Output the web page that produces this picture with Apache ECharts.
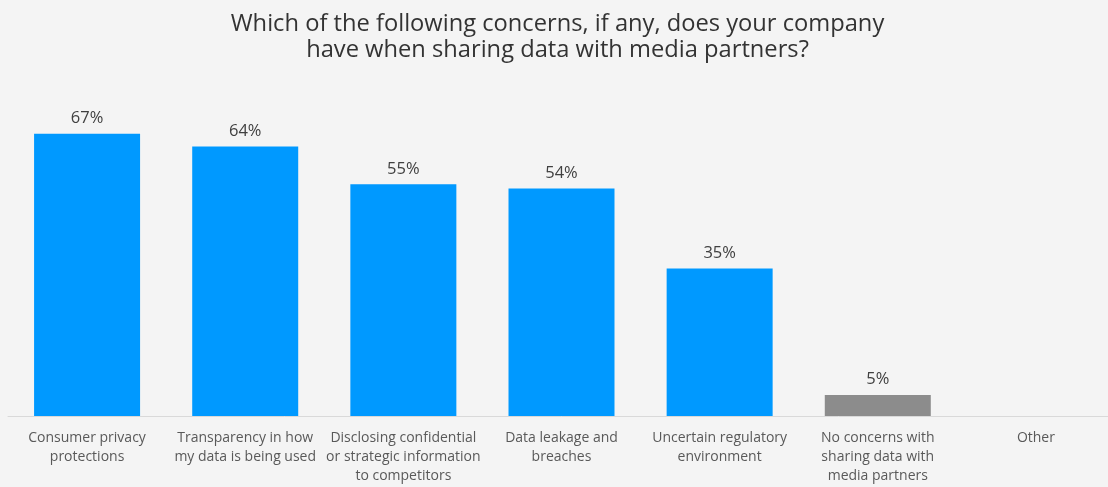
<!DOCTYPE html>
<html>
<head>
<meta charset="utf-8">
<script src="https://cdn.jsdelivr.net/npm/echarts@6/dist/echarts.min.js"></script>
<style>
  html, body { margin: 0; padding: 0; background: #f4f4f4; overflow: hidden; }
  /* the drawing surface runs a few pixels past the right edge of the window */
  #chart { width: 1115px; height: 487px; }
</style>
</head>
<body>
<div id="chart"></div>
<script>
const categories = [
  'Consumer privacy\nprotections',
  'Transparency in how\nmy data is being used',
  'Disclosing confidential\nor strategic information\nto competitors',
  'Data leakage and\nbreaches',
  'Uncertain regulatory\nenvironment',
  'No concerns with\nsharing data with\nmedia partners',
  'Other'
];
const values = [67, 64, 55, 54, 35, 5, null];
const barColors = ['#0099ff', '#0099ff', '#0099ff', '#0099ff', '#0099ff', '#8c8c8c', '#0099ff'];

const font = '"Open Sans", "Segoe UI", sans-serif';
const chart = echarts.init(document.getElementById('chart'));
chart.setOption({
  backgroundColor: '#f4f4f4',
  animation: false,
  title: {
    text: 'Which of the following concerns, if any, does your company\nhave when sharing data with media partners?',
    left: 'center',
    top: 6,
    textStyle: {
      fontFamily: font,
      fontSize: 23.7,
      fontWeight: 'normal',
      color: '#333333',
      lineHeight: 26
    }
  },
  grid: { left: 8, right: 0, top: 79, bottom: 71, containLabel: false },
  xAxis: {
    type: 'category',
    data: categories,
    axisLine: { lineStyle: { color: '#d9d9d9', width: 1 } },
    axisTick: { show: false },
    axisLabel: {
      interval: 0,
      margin: 13,
      fontFamily: font,
      fontSize: 14,
      lineHeight: 19,
      color: '#595959'
    }
  },
  yAxis: {
    type: 'value',
    min: 0,
    max: 80,
    show: false,
    splitLine: { show: false }
  },
  series: [{
    type: 'bar',
    barWidth: 106,
    data: values.map((v, i) => ({ value: v, itemStyle: { color: barColors[i] } })),
    label: {
      show: true,
      position: 'top',
      distance: 7,
      formatter: p => (p.value == null ? '' : p.value + '%'),
      fontFamily: font,
      fontSize: 16.5,
      color: '#404040'
    }
  }]
});
</script>
</body>
</html>
